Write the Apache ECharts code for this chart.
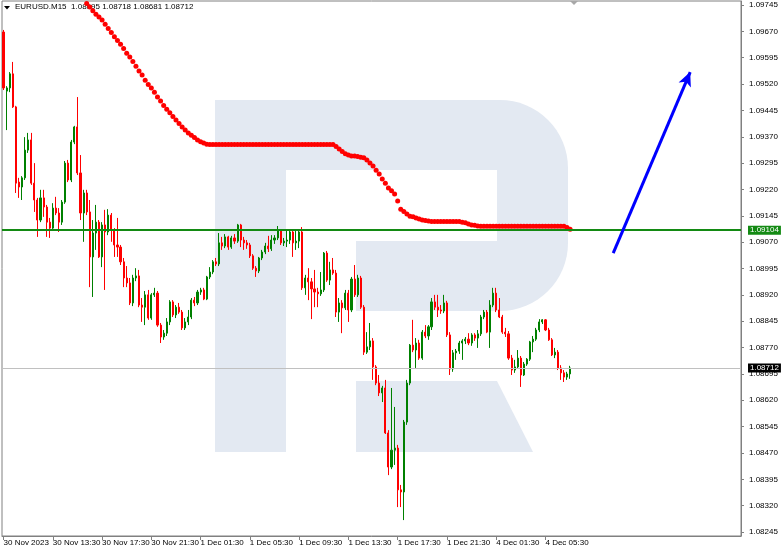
<!DOCTYPE html>
<html><head><meta charset="utf-8">
<script src="https://cdn.jsdelivr.net/npm/echarts@6/dist/echarts.min.js"></script>
<style>html,body{margin:0;padding:0;background:#fff}#c{width:782px;height:552px}</style>
</head><body><div id="c"></div>
<script>
const symbolName = 'EURUSD.M15';
const tickLabels = ['30 Nov 2023','30 Nov 13:30','30 Nov 17:30','30 Nov 21:30','1 Dec 01:30','1 Dec 05:30','1 Dec 09:30','1 Dec 13:30','1 Dec 17:30','1 Dec 21:30','4 Dec 01:30','4 Dec 05:30'];
const priceTicks = [1.08245,1.08320,1.08395,1.08470,1.08545,1.08620,1.08695,1.08770,1.08845,1.08920,1.08995,1.09070,1.09145,1.09220,1.09295,1.09370,1.09445,1.09520,1.09595,1.09670,1.09745];
const opens = [
1.09668,1.09500,1.09509,1.09549,1.09455,1.09241,1.09227,1.09253,1.09332,1.09361,
1.09238,1.09190,1.09133,1.09196,1.09170,1.09127,1.09110,1.09167,1.09153,1.09127,
1.09184,1.09295,1.09247,1.09355,1.09398,1.09267,1.09153,1.09210,1.09156,1.09028,
1.09096,1.09127,1.09028,1.09119,1.09099,1.09147,1.09105,1.09062,1.09056,1.09014,
1.08968,1.08954,1.08897,1.08968,1.08974,1.08891,1.08885,1.08920,1.08854,1.08920,
1.08925,1.08834,1.08800,1.08811,1.08843,1.08900,1.08863,1.08885,1.08871,1.08826,
1.08843,1.08857,1.08905,1.08897,1.08928,1.08934,1.08908,1.08971,1.08985,1.09014,
1.09008,1.09068,1.09059,1.09085,1.09056,1.09082,1.09073,1.09119,1.09076,1.09068,
1.09062,1.09031,1.08996,1.08988,1.09025,1.09042,1.09059,1.09051,1.09076,1.09082,
1.09102,1.09068,1.09073,1.09076,1.09099,1.09068,1.09073,1.09099,1.08940,1.08968,
1.08957,1.08937,1.08928,1.08923,1.08934,1.09039,1.08962,1.08991,1.08982,1.08871,
1.08897,1.08883,1.08925,1.08877,1.08965,1.08920,1.08968,1.08885,1.08757,1.08772,
1.08789,1.08715,1.08669,1.08641,1.08655,1.08527,1.08430,1.08478,1.08484,1.08365,
1.08359,1.08558,1.08669,1.08777,1.08763,1.08783,1.08740,1.08814,1.08803,1.08829,
1.08900,1.08885,1.08877,1.08874,1.08897,1.08806,1.08709,1.08755,1.08760,1.08783,
1.08789,1.08794,1.08783,1.08806,1.08797,1.08809,1.08857,1.08871,1.08814,1.08891,
1.08925,1.08877,1.08857,1.08814,1.08809,1.08740,1.08706,1.08715,1.08740,1.08692,
1.08723,1.08737,1.08786,1.08794,1.08820,1.08843,1.08849,1.08820,1.08792,1.08749,
1.08757,1.08712,1.08698,1.08686,1.08695];
const closes = [
1.09509,1.09509,1.09549,1.09455,1.09238,1.09227,1.09253,1.09332,1.09361,1.09238,
1.09190,1.09133,1.09196,1.09170,1.09127,1.09110,1.09167,1.09153,1.09127,1.09184,
1.09295,1.09247,1.09355,1.09398,1.09267,1.09153,1.09210,1.09156,1.09028,1.09096,
1.09127,1.09028,1.09119,1.09099,1.09147,1.09105,1.09062,1.09056,1.09014,1.08968,
1.08954,1.08897,1.08968,1.08974,1.08891,1.08885,1.08920,1.08854,1.08920,1.08925,
1.08834,1.08800,1.08811,1.08843,1.08900,1.08863,1.08885,1.08871,1.08826,1.08843,
1.08857,1.08905,1.08897,1.08928,1.08934,1.08908,1.08971,1.08985,1.09014,1.09008,
1.09068,1.09059,1.09085,1.09056,1.09082,1.09073,1.09119,1.09076,1.09068,1.09062,
1.09031,1.08996,1.08988,1.09025,1.09042,1.09059,1.09051,1.09076,1.09082,1.09102,
1.09068,1.09073,1.09076,1.09099,1.09068,1.09073,1.09099,1.08940,1.08968,1.08957,
1.08937,1.08928,1.08923,1.08934,1.09039,1.08962,1.08991,1.08982,1.08871,1.08897,
1.08883,1.08925,1.08877,1.08965,1.08920,1.08968,1.08885,1.08757,1.08772,1.08789,
1.08715,1.08669,1.08641,1.08655,1.08527,1.08430,1.08478,1.08484,1.08365,1.08359,
1.08558,1.08669,1.08777,1.08763,1.08783,1.08740,1.08814,1.08803,1.08829,1.08900,
1.08885,1.08877,1.08874,1.08897,1.08806,1.08709,1.08755,1.08760,1.08783,1.08789,
1.08794,1.08783,1.08806,1.08797,1.08809,1.08857,1.08871,1.08814,1.08891,1.08925,
1.08877,1.08857,1.08814,1.08809,1.08740,1.08706,1.08715,1.08740,1.08692,1.08723,
1.08737,1.08786,1.08794,1.08820,1.08843,1.08849,1.08820,1.08792,1.08749,1.08757,
1.08712,1.08698,1.08686,1.08695,1.08712];
const lows = [
1.09503,1.09389,1.09497,1.09452,1.09210,1.09196,1.09190,1.09247,1.09324,1.09233,
1.09156,1.09085,1.09127,1.09142,1.09085,1.09082,1.09105,1.09147,1.09099,1.09119,
1.09179,1.09241,1.09241,1.09349,1.09261,1.09133,1.09071,1.09147,1.08942,1.08914,
1.09048,1.09025,1.08999,1.08934,1.09090,1.09071,1.09028,1.09028,1.09005,1.08942,
1.08942,1.08891,1.08888,1.08959,1.08885,1.08843,1.08834,1.08849,1.08849,1.08914,
1.08829,1.08783,1.08792,1.08803,1.08834,1.08857,1.08854,1.08866,1.08820,1.08820,
1.08834,1.08851,1.08888,1.08891,1.08920,1.08905,1.08905,1.08965,1.08979,1.09002,
1.09002,1.09048,1.09053,1.09048,1.09051,1.09065,1.09068,1.09056,1.09048,1.09051,
1.09025,1.08991,1.08971,1.08982,1.09019,1.09036,1.09042,1.09045,1.09065,1.09076,
1.09062,1.09059,1.09056,1.09065,1.09028,1.09048,1.09053,1.08934,1.08920,1.08905,
1.08851,1.08885,1.08885,1.08917,1.08928,1.08957,1.08948,1.08977,1.08857,1.08843,
1.08811,1.08877,1.08843,1.08871,1.08914,1.08914,1.08880,1.08749,1.08752,1.08763,
1.08678,1.08663,1.08632,1.08615,1.08524,1.08407,1.08424,1.08436,1.08316,1.08316,
1.08279,1.08550,1.08663,1.08757,1.08712,1.08735,1.08735,1.08797,1.08792,1.08820,
1.08877,1.08857,1.08866,1.08868,1.08800,1.08692,1.08701,1.08735,1.08752,1.08735,
1.08780,1.08777,1.08775,1.08789,1.08769,1.08803,1.08851,1.08811,1.08769,1.08885,
1.08871,1.08854,1.08809,1.08800,1.08735,1.08692,1.08698,1.08709,1.08658,1.08689,
1.08718,1.08732,1.08757,1.08789,1.08814,1.08837,1.08817,1.08789,1.08746,1.08740,
1.08706,1.08678,1.08672,1.08678,1.08681];
const highs = [
1.09674,1.09514,1.09554,1.09583,1.09458,1.09253,1.09258,1.09369,1.09381,1.09381,
1.09295,1.09196,1.09219,1.09219,1.09176,1.09139,1.09181,1.09199,1.09167,1.09190,
1.09301,1.09304,1.09361,1.09401,1.09483,1.09318,1.09219,1.09219,1.09190,1.09133,
1.09176,1.09133,1.09127,1.09162,1.09164,1.09153,1.09110,1.09139,1.09062,1.09025,
1.09002,1.08968,1.08977,1.08996,1.08991,1.08911,1.08931,1.08934,1.08925,1.08940,
1.08931,1.08840,1.08820,1.08854,1.08905,1.08905,1.08891,1.08897,1.08877,1.08854,
1.08877,1.08911,1.08914,1.08934,1.08940,1.08940,1.08974,1.08999,1.09019,1.09025,
1.09096,1.09085,1.09093,1.09088,1.09088,1.09093,1.09122,1.09122,1.09085,1.09076,
1.09068,1.09036,1.09002,1.09028,1.09048,1.09068,1.09088,1.09090,1.09090,1.09116,
1.09107,1.09082,1.09105,1.09107,1.09105,1.09105,1.09107,1.09113,1.08977,1.08996,
1.08968,1.08991,1.08940,1.08985,1.09042,1.09045,1.09014,1.09025,1.08991,1.08911,
1.08905,1.08934,1.08934,1.08971,1.09005,1.08977,1.08974,1.08891,1.08814,1.08840,
1.08797,1.08720,1.08692,1.08661,1.08678,1.08535,1.08655,1.08601,1.08493,1.08379,
1.08564,1.08678,1.08780,1.08849,1.08797,1.08792,1.08820,1.08834,1.08834,1.08911,
1.08920,1.08920,1.08891,1.08920,1.08903,1.08814,1.08763,1.08766,1.08789,1.08794,
1.08800,1.08811,1.08811,1.08811,1.08820,1.08863,1.08877,1.08877,1.08905,1.08940,
1.08940,1.08911,1.08863,1.08826,1.08817,1.08749,1.08735,1.08763,1.08746,1.08729,
1.08740,1.08789,1.08803,1.08826,1.08851,1.08851,1.08851,1.08826,1.08797,1.08769,
1.08763,1.08720,1.08706,1.08701,1.08718];
const maStart = 27;
const maValues = [
1.09749,1.09739,1.09729,1.09719,1.09711,1.09702,1.09690,1.09678,1.09667,1.09655,
1.09644,1.09633,1.09621,1.09608,1.09597,1.09584,1.09571,1.09557,1.09546,1.09531,
1.09519,1.09509,1.09497,1.09483,1.09472,1.09459,1.09448,1.09438,1.09428,1.09418,
1.09408,1.09398,1.09389,1.09381,1.09374,1.09368,1.09361,1.09356,1.09352,1.09349,
1.09348,1.09348,1.09348,1.09348,1.09348,1.09348,1.09348,1.09348,1.09348,1.09348,
1.09348,1.09348,1.09348,1.09348,1.09348,1.09348,1.09348,1.09348,1.09348,1.09348,
1.09348,1.09348,1.09348,1.09348,1.09348,1.09348,1.09348,1.09348,1.09348,1.09348,
1.09348,1.09348,1.09348,1.09348,1.09348,1.09348,1.09348,1.09348,1.09348,1.09348,1.09348,
1.09342,1.09335,1.09328,1.09322,1.09318,1.09315,1.09315,1.09314,1.09312,1.09310,
1.09304,1.09295,1.09287,1.09275,1.09264,1.09250,1.09238,1.09224,1.09216,1.09207,
1.09187,1.09164,1.09157,1.09150,1.09144,1.09142,1.09139,1.09136,1.09133,1.09132,1.09130,
1.09129,1.09129,1.09129,1.09129,1.09129,1.09129,1.09129,1.09129,1.09129,1.09129,
1.09127,1.09125,1.09122,1.09119,1.09118,1.09116,
1.09115,1.09115,1.09115,1.09115,1.09115,1.09115,1.09115,
1.09115,1.09115,1.09115,1.09115,1.09115,1.09115,1.09115,
1.09115,1.09115,1.09115,1.09115,1.09115,1.09115,1.09115,
1.09115,1.09115,1.09115,1.09115,1.09115,1.09115,1.09115,
1.09112,1.09107];
const levelPrice = 1.09104;
const arrowFrom = [198, 1.09039];
const arrowTo = [223, 1.09554];
const totalSlots = 240;
const labelEvery = 16;

// bar times (M15, weekend skipped)
const months = ['Jan','Feb','Mar','Apr','May','Jun','Jul','Aug','Sep','Oct','Nov','Dec'];
const categories = [];
let t = Date.UTC(2023, 10, 30, 9, 30);
for (let i = 0; i < totalSlots; i++) {
  const d = new Date(t);
  const hh = String(d.getUTCHours()).padStart(2, '0'), mm = String(d.getUTCMinutes()).padStart(2, '0');
  categories.push(d.getUTCDate() + ' ' + months[d.getUTCMonth()] + ' ' + hh + ':' + mm);
  t += 15 * 60000;
  const nd = new Date(t);
  if (nd.getUTCDay() === 6) t = Date.UTC(nd.getUTCFullYear(), nd.getUTCMonth(), nd.getUTCDate() + 2, 0, 0);
}
const candleData = opens.map((o, i) => [o, closes[i], lows[i], highs[i]]);
const maData = maValues.map((v, k) => [k + maStart, v]);
const last = opens.length - 1;
const showTick = (i) => i % labelEvery === 0 && i / labelEvery < tickLabels.length;
const font = 'Liberation Sans';

const chart = echarts.init(document.getElementById('c'), null, {renderer: 'canvas'});
chart.setOption({
  animation: false,
  backgroundColor: '#ffffff',
  textStyle: {fontFamily: font},
  grid: {left: 2, top: 1, width: 739, height: 535, show: true, borderColor: '#808080', borderWidth: 1, backgroundColor: 'transparent'},
  xAxis: {
    type: 'category', data: categories, boundaryGap: true,
    axisLine: {show: true, lineStyle: {color: '#808080'}},
    axisTick: {show: true, alignWithLabel: true, length: 4, interval: showTick, lineStyle: {color: '#808080'}},
    axisLabel: {interval: showTick, formatter: (v, i) => tickLabels[i / labelEvery], align: 'left', fontSize: 8, color: '#000', margin: 3, fontFamily: font},
    splitLine: {show: false}
  },
  yAxis: {
    type: 'value', position: 'right', min: 1.082337, max: 1.097564, scale: true,
    axisLine: {show: true, lineStyle: {color: '#808080'}},
    axisTick: {show: true, length: 3, customValues: priceTicks, lineStyle: {color: '#808080'}},
    axisLabel: {fontSize: 8, color: '#000', margin: 8, customValues: priceTicks, formatter: v => v.toFixed(5), fontFamily: font},
    splitLine: {show: false}
  },
  graphic: [
    {type: 'group', silent: true, z: -1, children: [
      {type: 'rect', shape: {x: 215, y: 100, width: 71, height: 352}, style: {fill: '#e3e9f2'}},
      {type: 'rect', shape: {x: 215, y: 100, width: 283, height: 70}, style: {fill: '#e3e9f2'}},
      {type: 'rect', shape: {x: 497, y: 100, width: 71, height: 211, r: [0, 68, 68, 0]}, style: {fill: '#e3e9f2'}},
      {type: 'rect', shape: {x: 356, y: 241, width: 142, height: 70}, style: {fill: '#e3e9f2'}},
      {type: 'polygon', shape: {points: [[356, 381], [497, 381], [533, 452], [356, 452]]}, style: {fill: '#e3e9f2'}}
    ]},
    {type: 'polygon', z: 1, shape: {points: [[4, 6], [10, 6], [7, 9.5]]}, style: {fill: '#000'}},
    {type: 'text', z: 1, left: 15, top: 3, style: {text: symbolName + '  ' + [opens[last], highs[last], lows[last], closes[last]].map(v => v.toFixed(5)).join(' '), fill: '#000', font: '8px "Liberation Sans"'}},
    {type: 'polygon', z: 1, shape: {points: [[570, 1], [578, 1], [574, 5]]}, style: {fill: '#a8a8a8'}}
  ],
  series: [
    {
      type: 'candlestick', data: candleData, barWidth: 1.6, z: 3,
      itemStyle: {color: '#008000', color0: '#ff0000', borderColor: '#008000', borderColor0: '#ff0000', borderWidth: 1},
      markLine: {
        silent: true, animation: false, symbol: ['none', 'none'], precision: 5,
        data: [
          {yAxis: levelPrice, lineStyle: {color: '#138a13', width: 2, type: 'solid'},
           label: {show: true, position: 'end', distance: 7, formatter: levelPrice.toFixed(5), color: '#fff', backgroundColor: '#138a13', padding: [1, 2, 0, 2], fontSize: 8, fontFamily: font}},
          {yAxis: closes[last], lineStyle: {color: '#c0c0c0', width: 1, type: 'solid'},
           label: {show: true, position: 'end', distance: 7, formatter: closes[last].toFixed(5), color: '#fff', backgroundColor: '#000', padding: [1, 2, 0, 2], fontSize: 8, fontFamily: font}},
          [{coord: arrowFrom, symbol: 'none', lineStyle: {color: '#0000ff', width: 3, type: 'solid'}, label: {show: false}},
           {coord: arrowTo, symbol: 'arrow', symbolSize: [10, 14]}]
        ]
      }
    },
    {
      type: 'scatter', data: maData, symbol: 'circle', symbolSize: 5, z: 4,
      itemStyle: {color: '#ff0000', opacity: 1}
    }
  ]
});
</script></body></html>
